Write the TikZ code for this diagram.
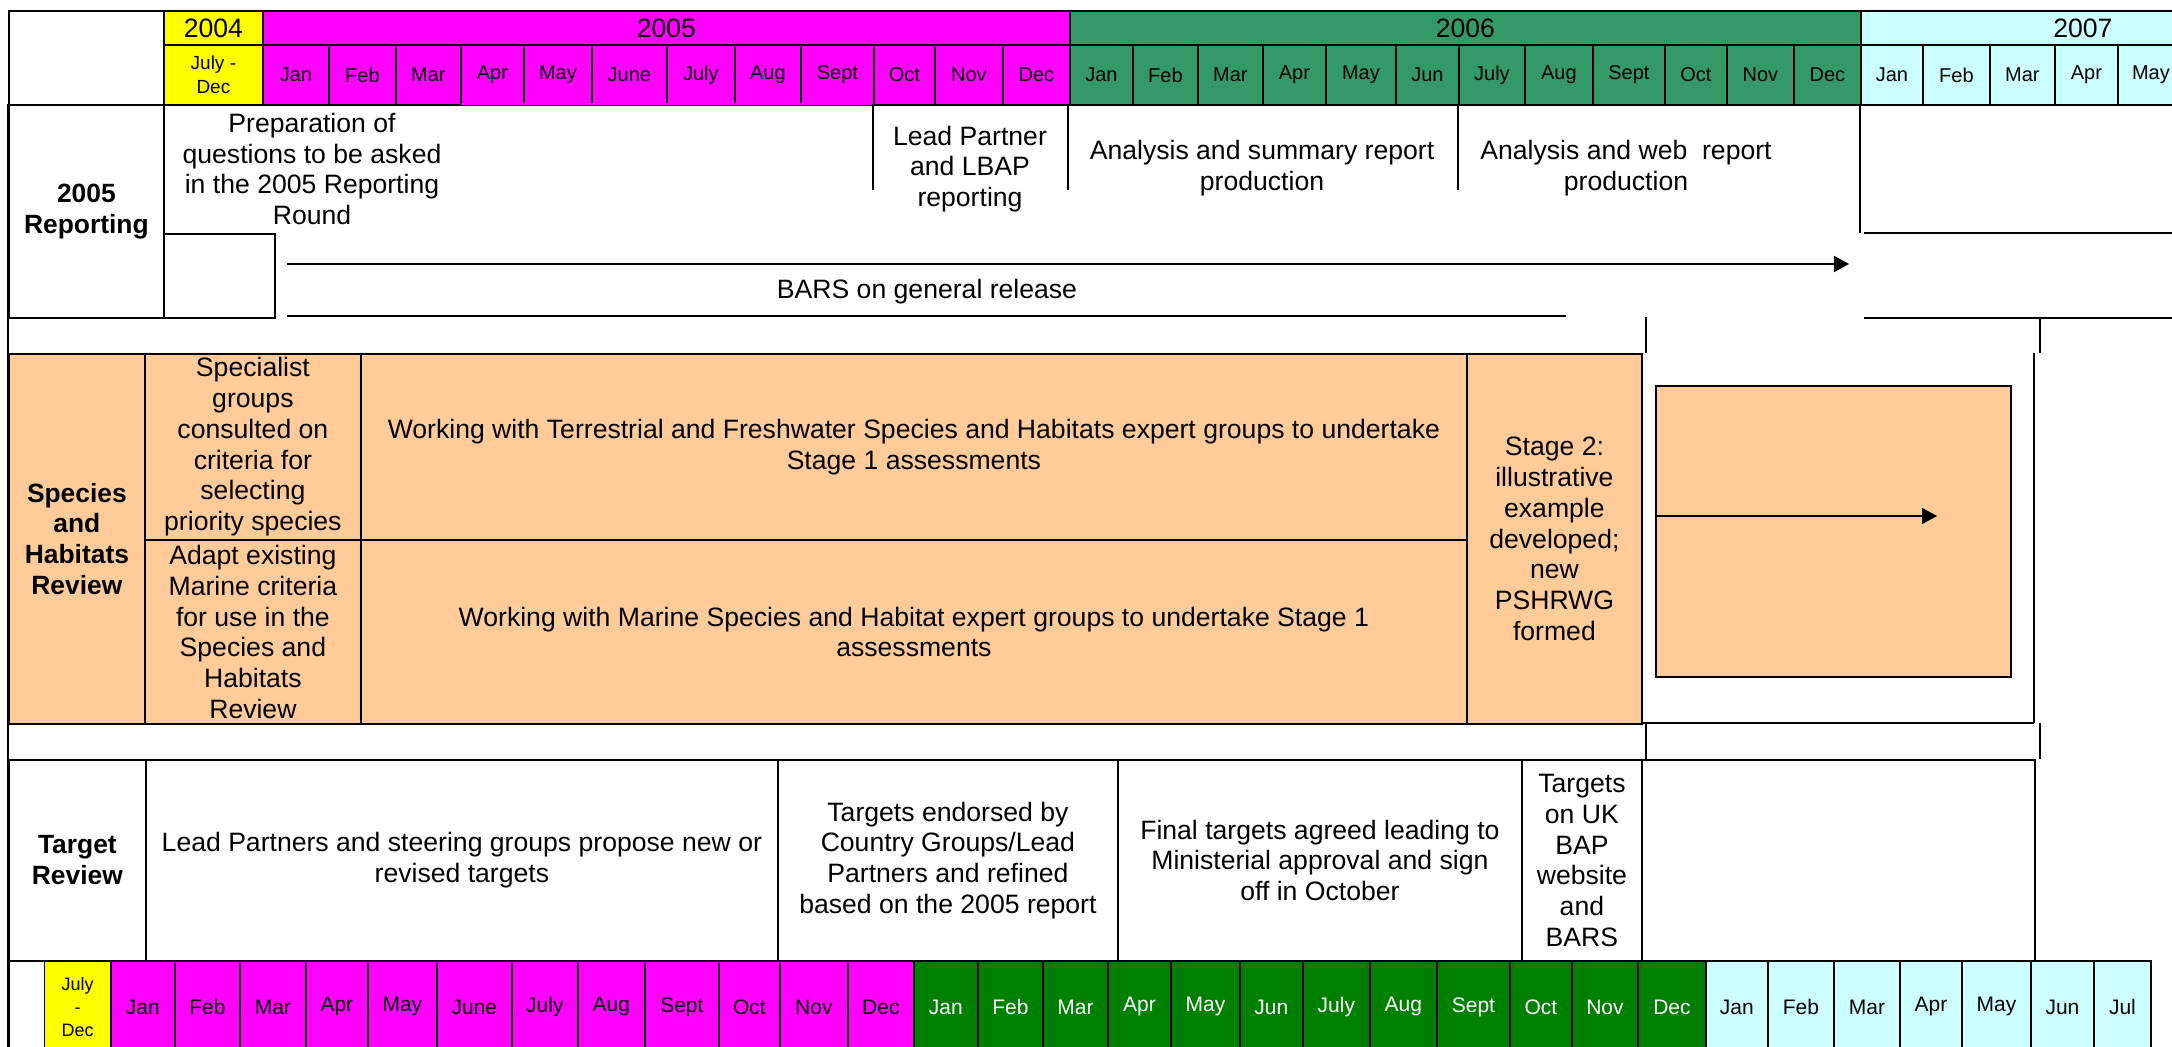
\documentclass[tikz,border=0pt]{standalone}
\usepackage{fontspec}
\setmainfont{Liberation Sans}
\usepackage{xcolor}
\usepackage{tikz}
\usetikzlibrary{arrows.meta,positioning}

\definecolor{yr04}{HTML}{FFFF00}
\definecolor{yr05}{HTML}{FF00FF}
\definecolor{yr06}{HTML}{339966}
\definecolor{yr06dark}{HTML}{008000}
\definecolor{yr07}{HTML}{CCFFFF}
\definecolor{review}{HTML}{FFCC99}

\begin{document}
\begin{tikzpicture}[
    x=0.5pt, y=-0.5pt,
    font=\fontsize{13.3}{15.4}\selectfont,
    cellsize/.style 2 args={minimum width=(#1)*0.5pt, minimum height=(#2)*0.5pt},
    cell/.style={rectangle, draw, line width=0.9pt, anchor=north west, inner sep=0pt, align=center},
    month/.style={cell, font=\fontsize{10}{12}\selectfont},
    lowmonth/.style={cell, font=\fontsize{10.5}{12}\selectfont},
    rowhead/.style={cell, font=\fontsize{13.2}{15.4}\selectfont\bfseries},
    txt/.style={align=center, inner sep=0pt},
    rule/.style={line width=1pt},
    arrow/.style={-{Triangle[length=7.5pt,width=8pt]}, line width=1pt}
]
\path[use as bounding box, fill=white] (0,0) rectangle (2172,1047);

% Header: years and months
\node[cell, cellsize={155}{94}] (corner) at (8,10) {};
\node[cell, fill=yr04, cellsize={99}{34}] (y2004) at (163,10) {2004};
\node[cell, fill=yr05, cellsize={807}{34}] (y2005) at (262,10) {2005};
\node[cell, fill=yr06, cellsize={791}{34}] (y2006) at (1069,10) {2006};
\node[cell, fill=yr07, cellsize={444}{34}] (y2007) at (1860,10) {2007};
\node[month, fill=yr04, cellsize={99}{60}, font=\fontsize{9.5}{12}\selectfont] (top04) at (163,44) {July -\\Dec};
\foreach \xl/\xr/\txt [count=\i] in {262/328/Jan,328/395/Feb,395/460/Mar,460/523/Apr,523/591/May,591/666/June,666/734/July,734/800/Aug,800/873/Sept,873/934/Oct,934/1002/Nov,1002/1069/Dec}
  \node[month, fill=yr05, cellsize={\xr-\xl}{60}] (top05-\i) at (\xl,44) {\txt};
\foreach \xl/\xr/\txt [count=\i] in {1069/1132/Jan,1132/1197/Feb,1197/1262/Mar,1262/1325/Apr,1325/1395/May,1395/1458/Jun,1458/1524/July,1524/1592/Aug,1592/1664/Sept,1664/1726/Oct,1726/1793/Nov,1793/1860/Dec}
  \node[month, fill=yr06, cellsize={\xr-\xl}{60}] (top06-\i) at (\xl,44) {\txt};
\foreach \xl/\xr/\txt [count=\i] in {1860/1922/Jan,1922/1989/Feb,1989/2054/Mar,2054/2117/Apr,2117/2183/May}
  \node[month, fill=yr07, cellsize={\xr-\xl}{60}] (top07-\i) at (\xl,44) {\txt};
\draw[yr05, line width=1.2pt] (461,104) -- (872,104);

% 2005 Reporting
\node[rowhead, cellsize={155}{213}] (reporting) at (8,104) {2005\\Reporting};
\node[cell, cellsize={111}{84}] (repbox) at (163,233) {};
\node[txt] (prep) at (312,169) {Preparation of\\questions to be asked\\in the 2005 Reporting\\Round};
\node[txt] (lbap) at (970,169) {Lead Partner\\and LBAP\\reporting};
\node[txt] (summary) at (1262,168) {Analysis and summary report\\production};
\node[txt] (web) at (1626,168) {Analysis and web~ report\\production};
\draw[rule] (873,104) -- (873,190);
\draw[rule] (1068,104) -- (1068,190);
\draw[rule] (1458,104) -- (1458,190);
\draw[rule] (1860,104) -- (1860,233);
\draw[rule] (1864,233) -- (2180,233);
\coordinate (barsStart) at (287,264);
\coordinate (barsEnd) at (1849,264);
\draw[arrow] (barsStart) -- (barsEnd);
\node[txt] (bars) at (927,292) {BARS on general release};
\draw[rule] (287,316) -- (1566,316);
\draw[rule] (1864,318) -- (2180,318);
\draw[rule] (1646,317) -- (1646,353);
\draw[rule] (2040,318) -- (2040,353);

% Species and Habitats Review
\node[rowhead, fill=review, cellsize={136}{370}] (species) at (8,353) {Species\\and\\Habitats\\Review};
\node[cell, fill=review, cellsize={216}{186}] (specialist) at (144,353) {Specialist\\groups\\consulted on\\criteria for\\selecting\\priority species};
\node[cell, fill=review, cellsize={216}{184}] (adapt) at (144,539) {Adapt existing\\Marine criteria\\for use in the\\Species and\\Habitats\\Review};
\node[cell, fill=review, cellsize={1106}{186}] (terrestrial) at (360,353) {Working with Terrestrial and Freshwater Species and Habitats expert groups to undertake\\Stage 1 assessments};
\node[cell, fill=review, cellsize={1106}{184}] (marine) at (360,539) {Working with Marine Species and Habitat expert groups to undertake Stage 1\\assessments};
\node[cell, fill=review, cellsize={175}{370}] (stage2) at (1466,353) {Stage 2:\\illustrative\\example\\developed;\\new\\PSHRWG\\formed};
\node[cell, fill=review, cellsize={355}{291}, line width=1pt] (next) at (1655,385) {};
\coordinate (nextEnd) at (1937,516);
\draw[-{Triangle[length=7.5pt,width=8pt]}, line width=0.6pt] (next.west |- nextEnd) -- (nextEnd);
\draw[rule] (2034,353) -- (2034,723);
\draw[rule] (1641,723) -- (2034,723);
\draw[rule] (1646,723) -- (1646,759);
\draw[rule] (2040,723) -- (2040,759);

% Target Review
\node[rowhead, cellsize={137}{201}] (target) at (8,759) {Target\\Review};
\node[cell, cellsize={632}{201}] (propose) at (145,759) {Lead Partners and steering groups propose new or\\revised targets};
\node[cell, cellsize={340}{201}] (endorsed) at (777,759) {Targets endorsed by\\Country Groups/Lead\\Partners and refined\\based on the 2005 report};
\node[cell, cellsize={404}{201}] (final) at (1117,759) {Final targets agreed leading to\\Ministerial approval and sign\\off in October};
\node[cell, cellsize={120}{201}] (ukbap) at (1521,759) {Targets\\on UK\\BAP\\website\\and\\BARS};
\node[cell, cellsize={393}{201}] (open) at (1641,759) {};

% Footer months
\node[cell, cellsize={35.5}{92}] (blank) at (8,960) {};
\node[lowmonth, fill=yr04, cellsize={66.5}{92}, font=\fontsize{9}{11.5}\selectfont] (low04) at (43.5,960) {July\\-\\Dec};
\foreach \xl/\xr/\txt [count=\i] in {110/174/Jan,174/239/Feb,239/305/Mar,305/367/Apr,367/436/May,436/511/June,511/577/July,577/644/Aug,644/718/Sept,718/779/Oct,779/847/Nov,847/913/Dec}
  \node[lowmonth, fill=yr05, cellsize={\xr-\xl}{92}] (low05-\i) at (\xl,960) {\txt};
\foreach \xl/\xr/\txt [count=\i] in {913/977/Jan,977/1042/Feb,1042/1107/Mar,1107/1170/Apr,1170/1239/May,1239/1302/Jun,1302/1369/July,1369/1436/Aug,1436/1509/Sept,1509/1571/Oct,1571/1637/Nov,1637/1705/Dec}
  \node[lowmonth, fill=yr06dark, text=white, cellsize={\xr-\xl}{92}] (low06-\i) at (\xl,960) {\txt};
\foreach \xl/\xr/\txt [count=\i] in {1705/1767/Jan,1767/1833/Feb,1833/1899/Mar,1899/1961/Apr,1961/2030/May,2030/2093/Jun,2093/2150/Jul}
  \node[lowmonth, fill=yr07, cellsize={\xr-\xl}{92}] (low07-\i) at (\xl,960) {\txt};

\draw[rule] (8,104) -- (8,1052);
\end{tikzpicture}
\end{document}
